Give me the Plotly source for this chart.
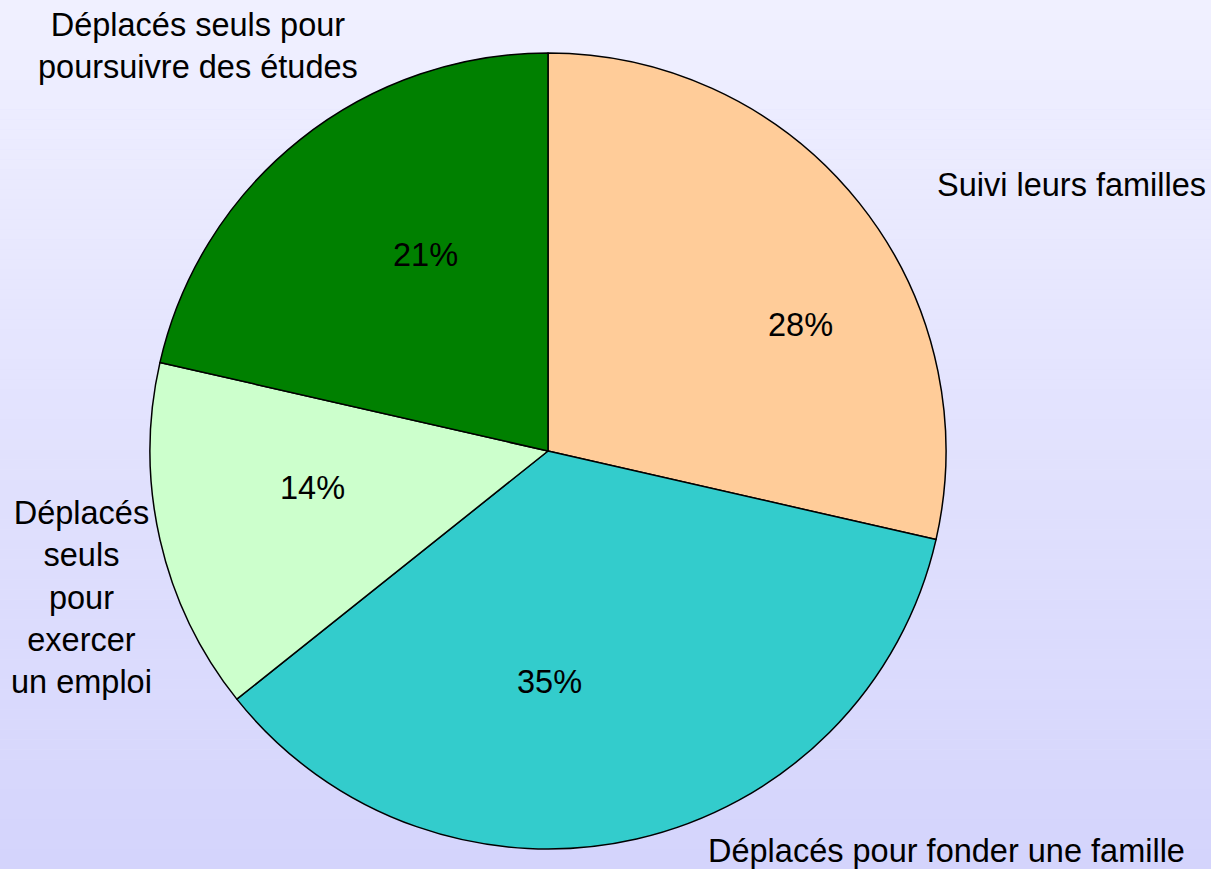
import plotly.graph_objects as go

# Data
categories = ["Suivi leurs familles", "Déplacés pour fonder une famille",
              "Déplacés seuls pour exercer un emploi",
              "Déplacés seuls pour poursuivre des études"]
values = [28, 35, 14, 21]
slice_colors = ["#FFCC99", "#33CCCC", "#CCFFCC", "#008000"]
outside_labels = ["Suivi leurs familles", "Déplacés pour fonder une famille",
                  "Déplacés<br>seuls<br>pour<br>exercer<br>un emploi",
                  "Déplacés seuls pour<br>poursuivre des études"]

W, H = 1211, 869
FONT = "Arial, Liberation Sans, sans-serif"
FS = 32.5

# layout positions (pixels) for labels
outside_pos = [(1071, 185), (946, 851), (81, 597), (198, 46)]
inside_pos = [(800, 325), (549, 682), (312, 488), (425, 255)]

cx, cy, r = 548, 451, 398

fig = go.Figure(go.Pie(
    labels=categories, values=values, sort=False, direction="clockwise",
    rotation=0, marker=dict(colors=slice_colors, line=dict(color="black", width=1.5)),
    textinfo="none", hoverinfo="label+percent", showlegend=False,
    domain=dict(x=[(cx - r) / W, (cx + r) / W], y=[1 - (cy + r) / H, 1 - (cy - r) / H]),
))

annotations = []
for (px, py), t in zip(outside_pos, outside_labels):
    annotations.append(dict(x=px / W, y=1 - py / H, xref="paper", yref="paper",
                            text=t, showarrow=False, xanchor="center", yanchor="middle",
                            font=dict(family=FONT, size=FS, color="black")))
for (px, py), v in zip(inside_pos, values):
    annotations.append(dict(x=px / W, y=1 - py / H, xref="paper", yref="paper",
                            text=f"{v}%", showarrow=False, xanchor="center", yanchor="middle",
                            font=dict(family=FONT, size=FS, color="black")))

# gradient background
shapes = []
N = 87
top = (240, 240, 255)
bot = (212, 212, 252)
for i in range(N):
    f = i / (N - 1)
    c = tuple(round(top[k] + (bot[k] - top[k]) * f) for k in range(3))
    shapes.append(dict(type="rect", xref="paper", yref="paper", x0=0, x1=1,
                       y0=1 - (i + 1) / N, y1=1 - i / N, layer="below",
                       fillcolor=f"rgb{c}", line=dict(width=0)))

fig.update_layout(
    width=W, height=H, margin=dict(l=0, r=0, t=0, b=0),
    paper_bgcolor="rgb(226,226,253)", plot_bgcolor="rgba(0,0,0,0)",
    annotations=annotations, shapes=shapes,
    font=dict(family=FONT, size=FS),
)

fig.write_html("out.html", config={"displayModeBar": False},
               post_script="document.body.style.margin='0';document.body.style.overflow='hidden';")
